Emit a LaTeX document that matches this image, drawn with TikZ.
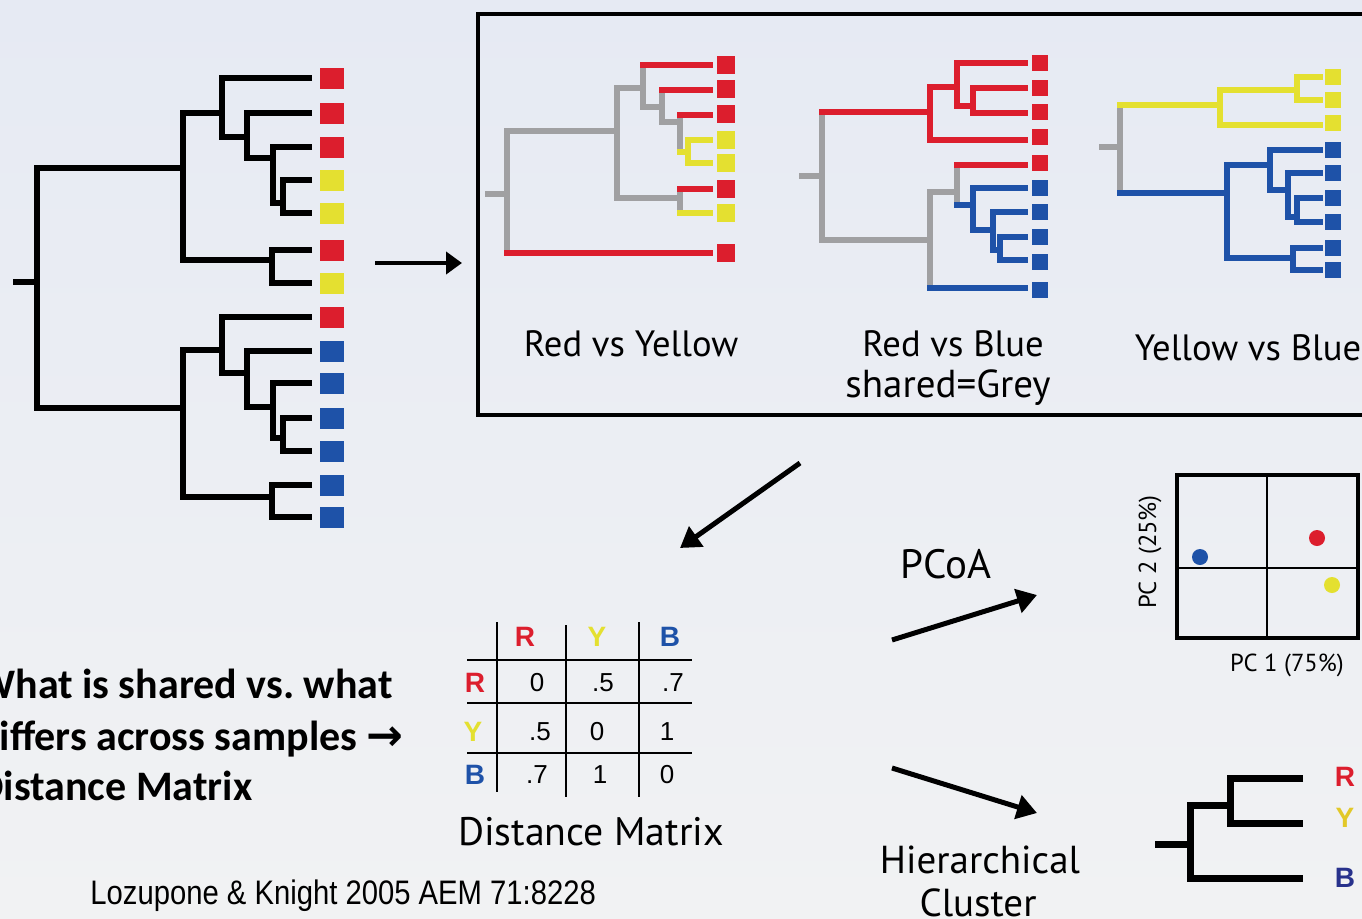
\documentclass[tikz,border=0pt]{standalone}
\usepackage{fontspec}
\newfontfamily\figfont{PT Sans}
\newfontfamily\slidefont{Carlito}
\newfontfamily\citefont[FakeStretch=0.86]{Liberation Sans}
\newfontfamily\numfont{Liberation Sans}
\newfontfamily\arrowfont{DejaVu Sans}
\usetikzlibrary{arrows.meta}
\definecolor{paper}{RGB}{241,242,243}
\definecolor{paperblue}{RGB}{230,234,243}
\definecolor{leafred}{RGB}{220,30,45}
\definecolor{leafyellow}{RGB}{228,224,48}
\definecolor{leafblue}{RGB}{30,82,168}
\definecolor{sharedgrey}{RGB}{160,160,162}
\definecolor{navy}{RGB}{40,50,140}
\definecolor{ochre}{RGB}{226,200,40}

\begin{document}
\begin{tikzpicture}[x=0.5pt,y=-0.5pt,
  branch/.style={line width=3.2pt},
  twig/.style={line width=3pt, line cap=rect},
  shrd/.style={twig, sharedgrey},
  rd/.style={twig, leafred},
  yl/.style={twig, leafyellow},
  bl/.style={twig, leafblue},
  clus/.style={line width=3.5pt},
  flow/.style={line width=2.5pt, -{Triangle[length=10pt,width=12pt]}},
  lbl/.style={font=\figfont\fontsize{18.3pt}{22pt}\selectfont},
  cell/.style={font=\numfont\fontsize{13pt}{15pt}\selectfont},
  hdr/.style={font=\numfont\bfseries\fontsize{14pt}{16pt}\selectfont},
  axis/.style={font=\figfont\fontsize{12.3pt}{14pt}\selectfont},
  slide/.style={font=\slidefont\bfseries\fontsize{21pt}{25pt}\selectfont, inner sep=0pt},
  cite/.style={font=\citefont\fontsize{17pt}{20pt}\selectfont, inner sep=0pt}]
\useasboundingbox (0,0) rectangle (1362,918);
\clip (0,0) rectangle (1362,918);
\shade[top color=paperblue, bottom color=paper] (0,0) rectangle (1362,918);

\draw[branch] (13,282) -- (37,282);
\draw[branch] (183,168) -| (37,408) -- (183,408);
\draw[branch] (222,113) -| (183,260) -- (272,260);
\draw[branch] (312,78) -| (222,137) -- (247,137);
\draw[branch] (312,113) -| (247,158) -- (273,158);
\draw[branch] (312,147) -| (273,203) -- (283,203);
\draw[branch] (312,180) -| (283,213) -- (312,213);
\draw[branch] (312,250) -| (272,283) -- (312,283);
\draw[branch] (222,350) -| (183,497) -- (272,497);
\draw[branch] (312,317) -| (222,373) -- (247,373);
\draw[branch] (312,351) -| (247,407) -- (273,407);
\draw[branch] (312,383) -| (273,438) -- (283,438);
\draw[branch] (312,418) -| (283,451) -- (312,451);
\draw[branch] (312,485) -| (272,517) -- (312,517);
\foreach \y/\c in {78/leafred,113/leafred,147/leafred,180/leafyellow,213/leafyellow,
  250/leafred,283/leafyellow,317/leafred,351/leafblue,383/leafblue,418/leafblue,
  451/leafblue,485/leafblue,517/leafblue} {
  \fill[\c] (320,\y-10) rectangle (344,\y+11);
}

\draw[line width=1.6pt] (478,14) rectangle (1390,415);

\draw[shrd] (488,194) -- (507,194);
\draw[shrd] (617,131) -| (507,253);
\draw[rd] (507,253) -- (710,253);
\draw[shrd] (643,88) -| (617,198) -- (680,198);
\draw[shrd] (643,65) -- (643,107) -- (662,107);
\draw[rd] (643,65) -- (710,65);
\draw[shrd] (662,90) -- (662,122) -- (680,122);
\draw[rd] (662,90) -- (710,90);
\draw[shrd] (680,115) -- (680,152);
\draw[rd] (680,115) -- (710,115);
\draw[yl] (680,152) -- (688,152);
\draw[yl] (710,140) -| (688,163) -- (710,163);
\draw[shrd] (680,189) -- (680,210);
\draw[rd] (680,189) -- (710,189);
\draw[yl] (680,213) -- (710,213);
\foreach \y/\c in {65/leafred,89/leafred,114/leafred,140/leafyellow,163/leafyellow,
  189/leafred,213/leafyellow,253/leafred} {
  \fill[\c] (717,\y-9) rectangle (735,\y+9);
}

\draw[shrd] (802,176) -- (822,176);
\draw[shrd] (822,112) -- (822,240) -- (930,240);
\draw[rd] (822,112) -- (930,112);
\draw[rd] (957,87) -| (930,140) -- (1025,140);
\draw[rd] (1025,63) -| (957,106) -- (973,106);
\draw[rd] (1025,88) -| (973,113) -- (1025,113);
\draw[shrd] (957,192) -| (930,288);
\draw[bl] (930,288) -- (1025,288);
\draw[shrd] (957,165) -- (957,203);
\draw[rd] (957,165) -- (1025,165);
\draw[bl] (957,205) -- (973,205);
\draw[bl] (1025,188) -| (973,230) -- (993,230);
\draw[bl] (1025,212) -| (993,250) -- (1000,250);
\draw[bl] (1025,237) -| (1000,260) -- (1025,260);
\foreach \y/\c in {63/leafred,88/leafred,112/leafred,137/leafred,163/leafred,
  188/leafblue,212/leafblue,237/leafblue,262/leafblue,290/leafblue} {
  \fill[\c] (1032,\y-8) rectangle (1048,\y+8);
}

\draw[shrd] (1102,147) -- (1120,147);
\draw[shrd] (1120,105) -- (1120,193);
\draw[yl] (1120,105) -- (1220,105);
\draw[yl] (1297,90) -| (1220,125) -- (1320,125);
\draw[yl] (1320,77) -| (1297,100) -- (1320,100);
\draw[bl] (1120,193) -- (1227,193);
\draw[bl] (1270,165) -| (1227,258) -- (1293,258);
\draw[bl] (1320,150) -| (1270,190) -- (1288,190);
\draw[bl] (1320,173) -| (1288,217) -- (1297,217);
\draw[bl] (1320,198) -| (1297,222) -- (1320,222);
\draw[bl] (1320,248) -| (1293,270) -- (1320,270);
\foreach \y/\c in {77/leafyellow,100/leafyellow,123/leafyellow,150/leafblue,173/leafblue,
  198/leafblue,222/leafblue,248/leafblue,270/leafblue} {
  \fill[\c] (1325,\y-8) rectangle (1341,\y+8);
}

\node[lbl,anchor=base] (ry) at (631,356) {Red vs Yellow};
\node[lbl,anchor=base] (rb) at (953,356) {Red vs Blue};
\node[lbl,anchor=base,font=\figfont\fontsize{19.5pt}{22pt}\selectfont] (sg) at (948,397) {shared=Grey};
\node[lbl,anchor=base] (yb) at (1248,360) {Yellow vs Blue};

\coordinate (treeout) at (375,263);
\coordinate (boxin) at (462,263);
\coordinate (boxout) at (800,463);
\coordinate (matin) at (680,548);
\coordinate (pcoafrom) at (892,640);
\coordinate (pcoato) at (1037,595);
\coordinate (clusfrom) at (892,768);
\coordinate (clusto) at (1037,813);
\draw[line width=2pt, -{Triangle[length=8pt,width=11pt]}] (treeout) -- (boxin);
\draw[flow] (boxout) -- (matin);
\draw[flow] (pcoafrom) -- (pcoato);
\draw[flow] (clusfrom) -- (clusto);

\draw[line width=1pt] (497,622) -- (497,792);
\draw[line width=1pt] (566,625) -- (566,797);
\draw[line width=1pt] (639,622) -- (639,797);
\foreach \y in {660,703,753} {
  \draw[line width=1pt] (467,\y) -- (692,\y);
}
\node[hdr,text=leafred] (cR) at (525,637) {R};
\node[hdr,text=leafyellow] (cY) at (597,637) {Y};
\node[hdr,text=leafblue] (cB) at (670,637) {B};
\node[hdr,text=leafred] (rR) at (475,683) {R};
\node[hdr,text=leafyellow] (rY) at (473,732) {Y};
\node[hdr,text=leafblue] (rB) at (475,775) {B};
\foreach \x/\y/\v in {537/683/0, 603/683/.5, 673/683/.7,
  540/732/.5, 597/732/0, 667/732/1,
  537/775/.7, 600/775/1, 667/775/0} {
  \node[cell] at (\x,\y) {\v};
}
\node[lbl,anchor=base,font=\figfont\fontsize{19.9pt}{23pt}\selectfont] (dm) at (591,845) {Distance Matrix};

\node[lbl,anchor=base,font=\figfont\fontsize{20.5pt}{24pt}\selectfont] (pcoa) at (946,578) {PCoA};
\draw[line width=2pt] (1177,475) rectangle (1358,638);
\draw[line width=0.9pt] (1267,475) -- (1267,638);
\draw[line width=0.9pt] (1177,568) -- (1358,568);
\fill[leafblue] (1200,557) circle (4pt);
\fill[leafred] (1317,538) circle (4pt);
\fill[leafyellow] (1332,585) circle (4pt);
\node[axis,rotate=90] (pc2) at (1150,552) {PC 2 (25\%)};
\node[axis] (pc1) at (1287,665) {PC 1 (75\%)};

\node[lbl,anchor=base,font=\figfont\fontsize{19.5pt}{23pt}\selectfont] (hier) at (980,873) {Hierarchical};
\node[lbl,anchor=base,font=\figfont\fontsize{19.5pt}{23pt}\selectfont] (clu) at (978,916) {Cluster};
\draw[clus] (1155,844) -- (1190,844);
\draw[clus] (1230,805) -| (1190,878) -- (1303,878);
\draw[clus] (1303,778) -| (1230,823) -- (1303,823);
\node[hdr,text=leafred] (kR) at (1345,777) {R};
\node[hdr,text=ochre] (kY) at (1345,818) {Y};
\node[hdr,text=navy] (kB) at (1345,878) {B};

\node[slide,anchor=base west] (q1) at (-23,698) {What is shared vs.\ what};
\node[slide,anchor=base west] (q2) at (-23,750) {differs across samples {\arrowfont\bfseries\fontsize{22pt}{25pt}\selectfont →}};
\node[slide,anchor=base west] (q3) at (-23,800) {Distance Matrix};
\node[cite,anchor=base west] (src) at (90,904) {Lozupone \& Knight 2005 AEM 71:8228};
\end{tikzpicture}
\end{document}
